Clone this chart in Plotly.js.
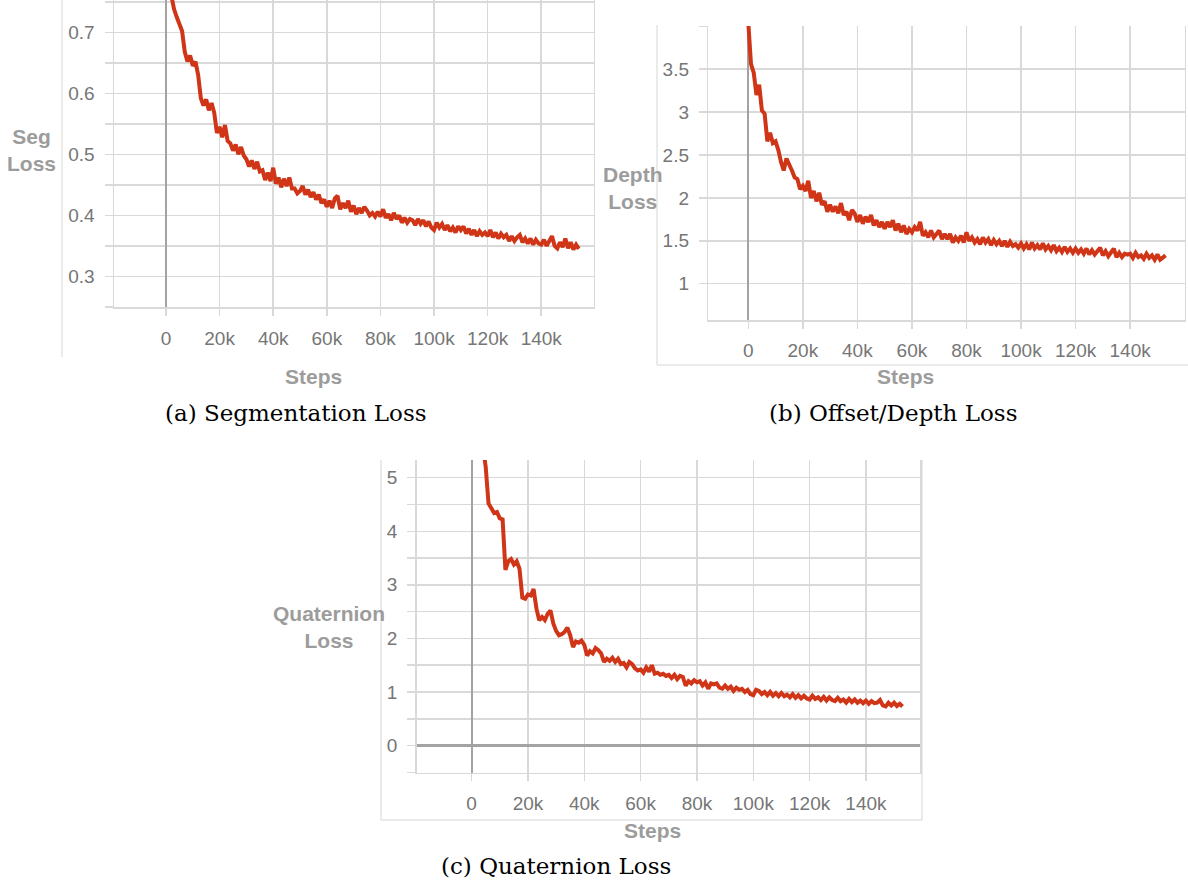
<!DOCTYPE html>
<html>
<head>
<meta charset="utf-8">
<script src="https://cdn.plot.ly/plotly-3.0.1.min.js"></script>
<style>html,body{margin:0;padding:0;background:#fff;}#chart{width:1188px;height:887px;}</style>
</head>
<body>
<div id="chart"></div>
<script>
// ---- data (steps in thousands) ----
const stepsSeg = [2,3,4,5,6,7,8,9,
10,11,12,13,14,15,16,17,18,19,
20,21,22,23,24,25,26,27,28,29,
30,31,32,33,34,35,36,37,38,39,
40,41,42,43,44,45,46,47,48,49,
50,51,52,53,54,55,56,57,58,59,
60,61,62,63,64,65,66,67,68,69,
70,71,72,73,74,75,76,77,78,79,
80,81,82,83,84,85,86,87,88,89,
90,91,92,93,94,95,96,97,98,99,
100,101,102,103,104,105,106,107,108,109,
110,111,112,113,114,115,116,117,118,119,
120,121,122,123,124,125,126,127,128,129,
130,131,132,133,134,135,136,137,138,139,
140,141,142,143,144,145,146,147,148,149,
150,151,152,153,154];
const segLoss = [0.760,0.738,0.725,0.712,0.702,0.668,0.652,0.662,
0.645,0.652,0.630,0.592,0.580,0.590,0.572,0.584,0.568,0.535,
0.545,0.528,0.548,0.522,0.518,0.506,0.516,0.500,0.512,0.498,
0.492,0.480,0.490,0.476,0.488,0.472,0.474,0.458,0.470,0.456,
0.478,0.452,0.462,0.446,0.460,0.448,0.462,0.444,0.444,0.436,
0.440,0.448,0.434,0.442,0.430,0.438,0.426,0.434,0.420,0.426,
0.414,0.424,0.412,0.428,0.432,0.410,0.420,0.412,0.424,0.406,
0.416,0.402,0.412,0.404,0.414,0.408,0.400,0.404,0.398,0.406,
0.398,0.410,0.396,0.402,0.392,0.404,0.394,0.400,0.388,0.396,
0.388,0.394,0.392,0.384,0.394,0.386,0.392,0.382,0.390,0.380,
0.376,0.388,0.380,0.386,0.376,0.384,0.374,0.380,0.372,0.382,
0.376,0.382,0.370,0.378,0.368,0.376,0.366,0.374,0.368,0.372,
0.366,0.376,0.364,0.372,0.362,0.370,0.364,0.368,0.358,0.366,
0.358,0.364,0.368,0.356,0.362,0.354,0.362,0.352,0.360,0.354,
0.352,0.360,0.350,0.358,0.366,0.350,0.346,0.356,0.348,0.362,
0.346,0.356,0.344,0.352,0.345];

const stepsDepth = [0,1,2,3,4,5,6,7,8,9,
10,11,12,13,14,15,16,17,18,19,
20,21,22,23,24,25,26,27,28,29,
30,31,32,33,34,35,36,37,38,39,
40,41,42,43,44,45,46,47,48,49,
50,51,52,53,54,55,56,57,58,59,
60,61,62,63,64,65,66,67,68,69,
70,71,72,73,74,75,76,77,78,79,
80,81,82,83,84,85,86,87,88,89,
90,91,92,93,94,95,96,97,98,99,
100,101,102,103,104,105,106,107,108,109,
110,111,112,113,114,115,116,117,118,119,
120,121,122,123,124,125,126,127,128,129,
130,131,132,133,134,135,136,137,138,139,
140,141,142,143,144,145,146,147,148,149,
150,151,152,153];
const depthLoss = [4.05,3.56,3.46,3.20,3.32,3.02,2.98,2.66,2.76,2.64,
2.66,2.56,2.42,2.32,2.46,2.40,2.32,2.24,2.22,2.10,
2.14,2.08,2.20,2.00,2.08,1.96,2.06,1.92,1.96,1.84,
1.92,1.84,1.90,1.82,1.94,1.80,1.84,1.74,1.86,1.82,
1.72,1.80,1.70,1.78,1.72,1.80,1.68,1.74,1.66,1.72,
1.64,1.72,1.66,1.74,1.62,1.70,1.60,1.68,1.58,1.64,
1.60,1.66,1.62,1.72,1.56,1.60,1.54,1.62,1.54,1.58,
1.62,1.52,1.58,1.52,1.58,1.48,1.54,1.50,1.56,1.48,
1.60,1.50,1.54,1.48,1.52,1.46,1.54,1.48,1.52,1.45,
1.51,1.46,1.50,1.44,1.50,1.43,1.49,1.44,1.46,1.42,
1.47,1.41,1.46,1.40,1.48,1.41,1.45,1.40,1.47,1.40,
1.44,1.39,1.45,1.38,1.42,1.37,1.43,1.37,1.41,1.36,
1.41,1.36,1.40,1.35,1.41,1.34,1.39,1.34,1.38,1.42,
1.33,1.38,1.32,1.37,1.41,1.31,1.36,1.31,1.35,1.34,
1.35,1.30,1.36,1.31,1.33,1.29,1.35,1.30,1.33,1.28,
1.34,1.28,1.31,1.33];

const stepsQuat = [4,5,6,7,8,9,
10,11,12,13,14,15,16,17,18,19,
20,21,22,23,24,25,26,27,28,29,
30,31,32,33,34,35,36,37,38,39,
40,41,42,43,44,45,46,47,48,49,
50,51,52,53,54,55,56,57,58,59,
60,61,62,63,64,65,66,67,68,69,
70,71,72,73,74,75,76,77,78,79,
80,81,82,83,84,85,86,87,88,89,
90,91,92,93,94,95,96,97,98,99,
100,101,102,103,104,105,106,107,108,109,
110,111,112,113,114,115,116,117,118,119,
120,121,122,123,124,125,126,127,128,129,
130,131,132,133,134,135,136,137,138,139,
140,141,142,143,144,145,146,147,148,149,
150,151,152,153];
const quatLoss = [5.60,5.20,4.52,4.42,4.34,4.36,
4.24,4.22,3.28,3.44,3.48,3.38,3.44,3.30,2.76,2.74,
2.82,2.80,2.92,2.56,2.34,2.40,2.34,2.46,2.52,2.28,
2.14,2.06,2.08,2.12,2.20,2.06,1.84,1.94,1.92,1.96,
1.88,1.68,1.76,1.72,1.82,1.78,1.72,1.56,1.62,1.58,
1.64,1.56,1.62,1.52,1.54,1.46,1.56,1.52,1.44,1.40,
1.42,1.36,1.46,1.38,1.50,1.34,1.36,1.32,1.34,1.30,
1.32,1.26,1.32,1.24,1.30,1.28,1.12,1.20,1.16,1.22,
1.18,1.20,1.12,1.18,1.06,1.16,1.14,1.16,1.08,1.06,
1.12,1.06,1.10,1.02,1.08,1.04,1.06,1.00,1.04,0.96,
0.94,1.04,1.02,0.96,1.00,0.94,1.00,0.93,0.98,0.92,
0.98,0.92,0.95,0.90,0.96,0.89,0.94,0.88,0.93,0.88,
0.86,0.93,0.87,0.90,0.85,0.91,0.84,0.90,0.85,0.83,
0.89,0.83,0.86,0.80,0.87,0.81,0.86,0.80,0.84,0.79,
0.84,0.78,0.83,0.79,0.80,0.85,0.75,0.73,0.80,0.75,
0.80,0.74,0.78,0.73];

const xTickVals = [0,20,40,60,80,100,120,140];
const xTickText = ['0','20k','40k','60k','80k','100k','120k','140k'];
const segTickVals = [0.25,0.3,0.35,0.4,0.45,0.5,0.55,0.6,0.65,0.7,0.75];
const segTickText = ['','0.3','','0.4','','0.5','','0.6','','0.7',''];
const depthTickVals = [1,1.5,2,2.5,3,3.5,4];
const depthTickText = ['1','1.5','2','2.5','3','3.5',''];
const quatTickVals = [-0.5,0,0.5,1,1.5,2,2.5,3,3.5,4,4.5,5];
const quatTickText = ['','0','','1','','2','','3','','4','','5'];

// ---- styling ----
const W = 1188, H = 887;
const px = v => v / W;
const py = v => 1 - v / H;
const LINE = '#cf3516';
const GRID = '#d9d9d9';
const ZERO = '#a3a3a3';
const TICKFONT = {family:'Liberation Sans, Arial, sans-serif', size:19, color:'#767676'};
const TITLEFONT = {family:'Liberation Sans, Arial, sans-serif', size:21, color:'#9c9c9c', weight:'bold'};
const CAPFONT = {family:'DejaVu Serif, serif', size:23, color:'#000'};

function xax(domain, range){
  return {domain:domain, range:range, tickvals:xTickVals, ticktext:xTickText,
    showgrid:true, gridcolor:GRID, gridwidth:1.5, zeroline:true, zerolinecolor:ZERO, zerolinewidth:2,
    showline:true, linecolor:GRID, linewidth:1.5, mirror:false,
    ticks:'outside', ticklen:7, tickwidth:1.5, tickcolor:GRID, tickfont:TICKFONT,
    ticklabelstandoff:6, fixedrange:true};
}
function yax(domain, range, tv, tt, anchor){
  return {domain:domain, range:range, tickvals:tv, ticktext:tt, anchor:anchor,
    showgrid:true, gridcolor:GRID, gridwidth:1.5, zeroline:true, zerolinecolor:ZERO, zerolinewidth:2.5,
    showline:true, linecolor:GRID, linewidth:1.5, mirror:true,
    ticks:'outside', ticklen:8, tickwidth:1.5, tickcolor:GRID, tickfont:TICKFONT,
    ticklabelstandoff:6, fixedrange:true};
}

const traces = [
  {x:stepsSeg, y:segLoss, xaxis:'x', yaxis:'y', type:'scatter', mode:'lines', line:{color:LINE, width:4}, hoverinfo:'skip'},
  {x:stepsDepth, y:depthLoss, xaxis:'x2', yaxis:'y2', type:'scatter', mode:'lines', line:{color:LINE, width:4}, hoverinfo:'skip'},
  {x:stepsQuat, y:quatLoss, xaxis:'x3', yaxis:'y3', type:'scatter', mode:'lines', line:{color:LINE, width:4}, hoverinfo:'skip'}
];

const xa = xax([px(114), px(593.5)], [-19.4, 159.5]); xa.anchor = 'y';
const xb = xax([px(708.3), px(1184.7)], [-14.65, 160]); xb.anchor = 'y2';
const xc = xax([px(416.7), px(920)], [-19.5, 159.2]); xc.anchor = 'y3';

const ann = (text, x, y, font) => ({text:text, x:px(x), y:py(y), xref:'paper', yref:'paper',
  xanchor:'center', yanchor:'middle', showarrow:false, font:font, align:'center'});

const layout = {
  width:W, height:H, margin:{l:0, r:0, t:0, b:0},
  paper_bgcolor:'#fff', plot_bgcolor:'#fff', showlegend:false,
  xaxis:xa, xaxis2:xb, xaxis3:xc,
  yaxis:yax([py(307.2), 1], [0.2495, 0.7529], segTickVals, segTickText, 'x'),
  yaxis2:yax([py(320), py(26)], [0.577, 4.004], depthTickVals, depthTickText, 'x2'),
  yaxis3:yax([py(772.5), py(460)], [-0.503, 5.33], quatTickVals, quatTickText, 'x3'),
  shapes:[
    {type:'line', xref:'paper', yref:'paper', x0:px(62), x1:px(62), y0:py(357), y1:1, line:{color:'#d6d6d6', width:1}},
    {type:'line', xref:'paper', yref:'paper', x0:px(657), x1:px(657), y0:py(365), y1:py(25), line:{color:'#d6d6d6', width:1}},
    {type:'line', xref:'paper', yref:'paper', x0:px(657), x1:1, y0:py(365), y1:py(365), line:{color:'#d6d6d6', width:1}},
    {type:'line', xref:'paper', yref:'paper', x0:px(381), x1:px(381), y0:py(820), y1:py(460), line:{color:'#d6d6d6', width:1}},
    {type:'line', xref:'paper', yref:'paper', x0:px(381), x1:px(922), y0:py(820), y1:py(820), line:{color:'#d6d6d6', width:1}},
    {type:'line', xref:'paper', yref:'paper', x0:px(922), x1:px(922), y0:py(820), y1:py(460), line:{color:'#d6d6d6', width:1}}
  ],
  annotations:[
    ann('Seg<br>Loss', 31, 150, TITLEFONT),
    ann('Depth<br>Loss', 633, 188, TITLEFONT),
    ann('Quaternion<br>Loss', 329, 627, TITLEFONT),
    ann('Steps', 313, 376, TITLEFONT),
    ann('Steps', 905, 376, TITLEFONT),
    ann('Steps', 652, 830, TITLEFONT),
    ann('(a) Segmentation Loss', 296, 413, CAPFONT),
    ann('(b) Offset/Depth Loss', 893, 413, CAPFONT),
    ann('(c) Quaternion Loss', 556, 866, CAPFONT)
  ]
};

Plotly.newPlot('chart', traces, layout, {staticPlot:true, displayModeBar:false});
</script>
</body>
</html>
